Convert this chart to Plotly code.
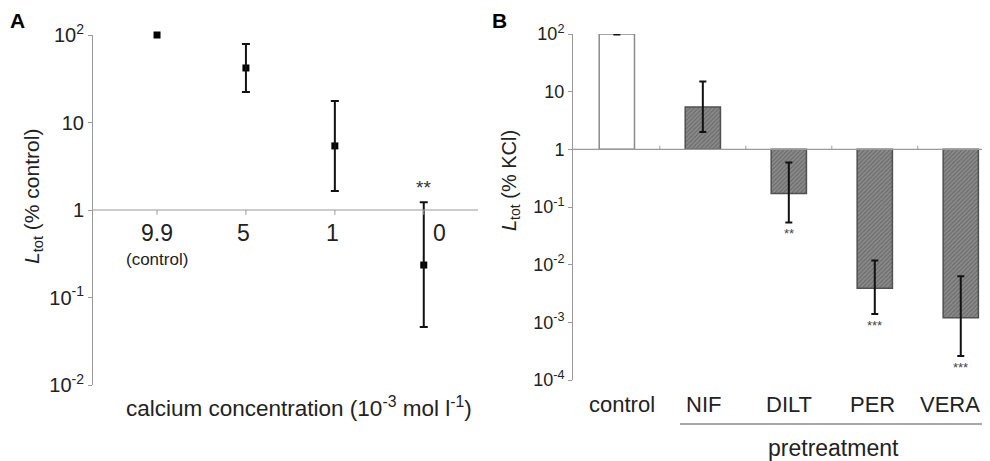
import math
import plotly.graph_objects as go

# ---------------- Panel A data ----------------
a_categories = ["9.9", "5", "1", "0"]
a_sublabels = ["(control)", "", "", ""]
a_values = [100, 42, 5.4, 0.235]
a_upper = [None, 79, 17.6, 1.23]
a_lower = [None, 22.3, 1.65, 0.046]
a_stars = ["", "", "", "**"]

# ---------------- Panel B data ----------------
b_categories = ["control", "NIF", "DILT", "PER", "VERA"]
b_values = [100, 5.4, 0.172, 0.0039, 0.0012]
b_upper = [101.5, 15, 0.59, 0.0118, 0.0063]
b_lower = [98.5, 2.0, 0.054, 0.0014, 0.00026]
b_stars = ["", "", "**", "***", "***"]

a_ytickvals = [0.01, 0.1, 1, 10, 100]
a_yticktext = ["10<sup>-2</sup>", "10<sup>-1</sup>", "1", "10", "10<sup>2</sup>"]
b_ytickvals = [0.0001, 0.001, 0.01, 0.1, 1, 10, 100]
b_yticktext = ["10<sup>-4</sup>", "10<sup>-3</sup>", "10<sup>-2</sup>", "10<sup>-1</sup>",
               "1", "10", "10<sup>2</sup>"]

FONT = "Liberation Sans, Arial, sans-serif"
OFF = 8                      # page body margin offset in the browser
FW, FH = 990 - OFF, 461 - OFF


def px(X):
    return (X - OFF) / FW


def py(Y):
    return 1 - (Y - OFF) / FH


fig = go.Figure()

a_x = list(range(len(a_categories)))
b_x = list(range(len(b_categories)))

# Panel A points
fig.add_trace(go.Scatter(
    x=a_x, y=a_values, mode="markers", cliponaxis=False,
    marker=dict(symbol="square", size=7, color="black"),
    xaxis="x", yaxis="y", showlegend=False, hoverinfo="skip"))

# Panel A error bars (only where present)
a_idx = [i for i in a_x if a_upper[i] is not None]
fig.add_trace(go.Scatter(
    x=[a_x[i] for i in a_idx], y=[a_values[i] for i in a_idx], mode="markers",
    cliponaxis=False,
    marker=dict(size=1, color="rgba(0,0,0,0)"),
    error_y=dict(type="data", symmetric=False,
                 array=[a_upper[i] - a_values[i] for i in a_idx],
                 arrayminus=[a_values[i] - a_lower[i] for i in a_idx],
                 color="#111111", thickness=2, width=4),
    xaxis="x", yaxis="y", showlegend=False, hoverinfo="skip"))

# Panel B bars (base at 1)
b_fill = ["white"] + ["#8a8a8a"] * (len(b_categories) - 1)
b_line = ["#8a8a8a"] + ["#505050"] * (len(b_categories) - 1)
b_shape = [""] + ["/"] * (len(b_categories) - 1)
fig.add_trace(go.Bar(
    x=b_x, y=[v - 1 for v in b_values], base=[1] * len(b_values),
    width=0.41, cliponaxis=False,
    marker=dict(color=b_fill, line=dict(color=b_line, width=1.5),
                pattern=dict(shape=b_shape, fgcolor="#5f5f5f", bgcolor="#8f8f8f",
                             size=3, solidity=0.35)),
    xaxis="x2", yaxis="y2", showlegend=False, hoverinfo="skip"))

# Panel B error bars
fig.add_trace(go.Scatter(
    x=b_x, y=b_values, mode="markers", cliponaxis=False,
    marker=dict(size=1, color="rgba(0,0,0,0)"),
    error_y=dict(type="data", symmetric=False,
                 array=[u - v for u, v in zip(b_upper, b_values)],
                 arrayminus=[v - l for v, l in zip(b_values, b_lower)],
                 color="#111111", thickness=2, width=3.5),
    xaxis="x2", yaxis="y2", showlegend=False, hoverinfo="skip"))

axis_col = "#9a9a9a"
tick_font = dict(family=FONT, size=20, color="#222222")

fig.update_layout(
    width=FW, height=FH,
    margin=dict(l=0, r=0, t=0, b=0, autoexpand=False),
    paper_bgcolor="white", plot_bgcolor="white",
    xaxis=dict(domain=[px(93), px(478)], range=[-0.72, 3.61],
               showticklabels=False, showline=False, ticks="", showgrid=False,
               zeroline=False, anchor="y", automargin=False),
    yaxis=dict(domain=[py(385), py(35)], type="log", range=[-2, 2],
               tickvals=a_ytickvals, ticktext=a_yticktext, tickfont=tick_font,
               showline=True, linecolor=axis_col, linewidth=1, ticks="outside",
               ticklen=4, tickcolor=axis_col, showgrid=False, zeroline=False,
               anchor="x", automargin=False),
    xaxis2=dict(domain=[px(573), 1.0], range=[-0.51, 4.34],
                showticklabels=False, showline=False, ticks="", showgrid=False,
                zeroline=False, anchor="y2", automargin=False),
    yaxis2=dict(domain=[py(380), py(34)], type="log", range=[-4, 2],
                tickvals=b_ytickvals, ticktext=b_yticktext,
                tickfont=dict(family=FONT, size=18, color="#222222"),
                showline=True, linecolor=axis_col, linewidth=1, ticks="outside",
                ticklen=4, tickcolor=axis_col, showgrid=False, zeroline=False,
                anchor="x2", automargin=False),
)

shapes = []
# reference lines at 1
shapes.append(dict(type="line", xref="x domain", yref="y", x0=0, x1=1, y0=1, y1=1,
                   line=dict(color=axis_col, width=1.2)))
shapes.append(dict(type="line", xref="x2 domain", yref="y2", x0=0, x1=1, y0=1, y1=1,
                   line=dict(color=axis_col, width=1.2)))
# small category ticks on the lines at 1
for i in a_x:
    shapes.append(dict(type="line", xref="x", yref="y", x0=i, x1=i, y0=1, y1=0.88,
                       line=dict(color=axis_col, width=1)))
for i in b_x[:-1]:
    shapes.append(dict(type="line", xref="x2", yref="y2", x0=i + 0.5, x1=i + 0.5,
                       y0=1, y1=1.15, line=dict(color=axis_col, width=1)))
# pretreatment bracket line
shapes.append(dict(type="line", xref="paper", yref="paper", x0=px(680), x1=1.0,
                   y0=py(424), y1=py(424), line=dict(color="#8a8a8a", width=1.5)))
fig.update_layout(shapes=shapes)

ann = []
# Panel A category labels under the line at 1 (last one sits right of its error bar)
a_label_shift = [0, -2, -2, 16]
for i, c, s, sh in zip(a_x, a_categories, a_sublabels, a_label_shift):
    ann.append(dict(x=i, y=0, xref="x", yref="y", text=c, showarrow=False,
                    xanchor="center", yanchor="top", yshift=-8, xshift=sh,
                    font=dict(family=FONT, size=23, color="#222222")))
    if s:
        ann.append(dict(x=i, y=0, xref="x", yref="y", text=s, showarrow=False,
                        xanchor="center", yanchor="top", yshift=-38, xshift=sh,
                        font=dict(family=FONT, size=17, color="#222222")))
# Panel A stars
for i, st, u in zip(a_x, a_stars, a_upper):
    if st:
        ann.append(dict(x=i, y=math.log10(u), xref="x", yref="y", text=st, showarrow=False,
                        xanchor="center", yanchor="bottom", yshift=2,
                        font=dict(family=FONT, size=19, color="#333333")))
# Panel B category labels (last one nudged to stay inside the page)
b_label_shift = [5, 1, 0, -2, -11]
for i, c, sh in zip(b_x, b_categories, b_label_shift):
    ann.append(dict(x=i, y=py(404), xref="x2", yref="paper", text=c, showarrow=False,
                    xanchor="center", yanchor="middle", xshift=sh,
                    font=dict(family=FONT, size=22, color="#222222")))
# Panel B stars
for i, st, l in zip(b_x, b_stars, b_lower):
    if st:
        ann.append(dict(x=i, y=math.log10(l), xref="x2", yref="y2", text=st, showarrow=False,
                        xanchor="center", yanchor="top", yshift=-2,
                        font=dict(family=FONT, size=13, color="#444444")))


def paper_text(X, Y, text, size, color="#222222", angle=0):
    return dict(x=px(X), y=py(Y), xref="paper", yref="paper", text=text,
                showarrow=False, xanchor="center", yanchor="middle", textangle=angle,
                font=dict(family=FONT, size=size, color=color))


ann += [
    paper_text(17, 20, "<b>A</b>", 21, "black"),
    paper_text(500, 20, "<b>B</b>", 21, "black"),
    paper_text(33, 197, "<i>L</i><sub>tot</sub> (% control)", 21, angle=-90),
    paper_text(511, 181, "<i>L</i><sub>tot</sub> (% KCl)", 20, angle=-90),
    paper_text(299, 407, "calcium concentration (10<sup>-3</sup> mol l<sup>-1</sup>)", 22.5),
    paper_text(833, 448, "pretreatment", 23),
]
fig.update_layout(annotations=ann)

fig.write_html("out.html")
